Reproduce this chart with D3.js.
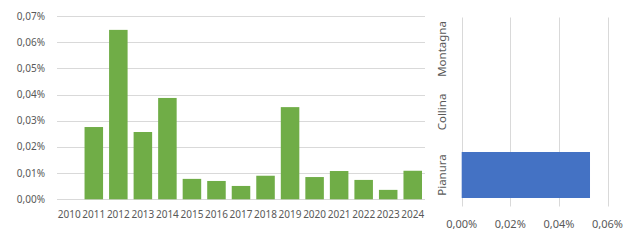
<!DOCTYPE html>
<html><head><meta charset="utf-8">
<script src="https://cdn.jsdelivr.net/npm/d3@7"></script>
<style>
html,body{margin:0;padding:0;background:#fff;}
svg{display:block;font-family:"Noto Sans",sans-serif;}
</style></head>
<body><svg id="c" width="630" height="240"></svg>
<script>
// Data (values in percent)
const years = ["2010","2011","2012","2013","2014","2015","2016","2017","2018","2019","2020","2021","2022","2023","2024"];
const yearValues = [0, 0.0276, 0.0647, 0.0257, 0.0387, 0.0078, 0.0070, 0.0051, 0.0090, 0.0352, 0.0085, 0.0108, 0.0074, 0.0036, 0.0109];
const leftTicks = [0, 0.01, 0.02, 0.03, 0.04, 0.05, 0.06, 0.07];
const zones = ["Montagna", "Collina", "Pianura"];
const zoneValues = [0, 0, 0.0528];
const rightTicks = [0, 0.02, 0.04, 0.06];

const fmt = v => v.toFixed(2).replace(".", ",") + "%";
const svg = d3.select("#c");
const grid = "#d9d9d9", txt = "#595959";

// Left chart
const x1 = d3.scaleBand().domain(years).range([57, 425]).paddingInner(0.245).paddingOuter(0.1225);
const y1 = d3.scaleLinear().domain([0, 0.07]).range([199.3, 16]);
const L = svg.append("g");
L.selectAll("line.g").data(leftTicks).join("line")
  .attr("x1", 57).attr("x2", 425)
  .attr("y1", d => Math.round(y1(d)) + 0.5).attr("y2", d => Math.round(y1(d)) + 0.5)
  .attr("stroke", grid).attr("stroke-width", 1);
L.selectAll("text.y").data(leftTicks).join("text")
  .attr("x", 45).attr("y", d => y1(d)).attr("dy", "0.35em")
  .attr("text-anchor", "end").attr("fill", txt).attr("font-size", 10).text(fmt);
L.selectAll("rect").data(years).join("rect")
  .attr("x", d => x1(d)).attr("width", x1.bandwidth())
  .attr("y", (d, i) => y1(yearValues[i])).attr("height", (d, i) => y1(0) - y1(yearValues[i]))
  .attr("fill", "#70ad47");
L.selectAll("text.x").data(years).join("text")
  .attr("x", d => x1(d) + x1.bandwidth() / 2).attr("y", 214).attr("dy", "0.35em")
  .attr("text-anchor", "middle").attr("fill", txt).attr("font-size", 10).text(d => d);

// Right chart
const x2 = d3.scaleLinear().domain([0, 0.06]).range([461.7, 607.5]);
const y2 = d3.scaleBand().domain(zones).range([17.5, 206.5]).paddingInner(0.27).paddingOuter(0.135);
const R = svg.append("g");
R.selectAll("line").data(rightTicks).join("line")
  .attr("x1", d => Math.round(x2(d)) + 0.5).attr("x2", d => Math.round(x2(d)) + 0.5)
  .attr("y1", 17.5).attr("y2", 206.5).attr("stroke", grid);
R.selectAll("rect").data(zones).join("rect")
  .attr("x", x2(0)).attr("y", d => y2(d)).attr("height", y2.bandwidth())
  .attr("width", (d, i) => x2(zoneValues[i]) - x2(0)).attr("fill", "#4472c4");
R.selectAll("text.x").data(rightTicks).join("text")
  .attr("x", d => x2(d)).attr("y", 224).attr("dy", "0.35em")
  .attr("text-anchor", "middle").attr("fill", txt).attr("font-size", 11).text(fmt);
R.selectAll("text.c").data(zones).join("text")
  .attr("transform", d => `translate(446,${y2(d) + y2.bandwidth() / 2}) rotate(-90)`)
  .attr("text-anchor", "middle").attr("fill", txt).attr("font-size", 11.5).text(d => d);
</script></body></html>
